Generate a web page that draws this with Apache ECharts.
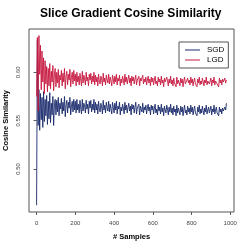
<!DOCTYPE html>
<html><head><meta charset="utf-8">
<script src="https://cdn.jsdelivr.net/npm/echarts@6/dist/echarts.min.js"></script>
<style>html,body{margin:0;padding:0;background:#fff}#c{width:249px;height:249px}</style>
</head><body><div id="c"></div>
<script>
const title = "Slice Gradient Cosine Similarity";
const xName = "# Samples";
const yName = "Cosine Similarity";
const seriesNames = ["SGD", "LGD"];
const sampleStep = 4;
const xTicks = [0, 200, 400, 600, 800, 1000];
const yTicks = [0.50, 0.55, 0.60];

const sgd = [
0.4625,0.633,0.545,0.582,0.540,0.578,0.551,0.574,0.543,0.580,0.549,0.572,0.555,
0.576,0.546,0.570,0.552,0.579,0.548,0.568,0.556,0.575,0.545,0.566,0.572,
0.556,0.571,0.559,0.574,0.555,0.568,0.562,0.573,0.557,0.569,0.560,0.575,0.554,0.566,0.571,0.558,0.569,0.563,0.574,0.556,0.565,0.570,0.559,0.572,0.561,
0.570,0.558,0.572,0.561,0.567,0.558,0.571,0.563,0.557,0.572,0.560,0.568,0.565,0.558,0.571,0.562,0.567,0.557,0.570,0.563,0.571,0.559,0.567,0.561,0.572,
0.558,0.569,0.561,0.567,0.557,0.570,0.562,0.559,0.568,0.564,0.557,0.571,0.561,0.566,0.558,0.569,0.563,0.560,0.570,0.559,0.567,0.562,0.557,0.569,0.564,
0.558,0.568,0.561,0.570,0.557,0.565,0.562,0.569,0.556,0.564,0.560,0.567,0.563,0.557,0.569,0.561,0.566,0.558,0.564,0.568,0.560,0.565,0.556,0.567,0.562,
0.566,0.558,0.564,0.569,0.557,0.563,0.561,0.567,0.556,0.565,0.562,0.559,0.568,0.558,0.564,0.561,0.566,0.557,0.563,0.567,0.560,0.564,0.556,0.566,0.561,
0.565,0.557,0.563,0.567,0.558,0.562,0.556,0.566,0.560,0.564,0.557,0.567,0.559,0.563,0.555,0.565,0.561,0.558,0.566,0.562,0.556,0.564,0.559,0.567,0.558,
0.563,0.556,0.565,0.559,0.562,0.555,0.566,0.558,0.563,0.560,0.556,0.565,0.559,0.564,0.555,0.561,0.566,0.558,0.561,0.556,0.565,0.559,0.563,0.557,0.566,
0.559,0.564,0.556,0.561,0.565,0.558,0.560,0.555,0.564,0.559,0.566,0.557,0.562,0.558,0.565,0.560,0.556,0.563,0.559,0.566,0.557,0.561,0.564,0.558,0.560,
0.565,0.556,0.562,0.559,0.566,0.557,0.561,0.564,0.558,0.560,0.555,0.564,0.559,0.562,0.557,0.563,0.560,0.558,0.564,0.561,0.568
];
const lgd = [
0.575,0.636,0.560,0.638,0.598,0.628,0.582,0.622,0.590,0.615,0.578,0.612,0.588,
0.606,0.580,0.604,0.586,0.609,0.583,0.601,0.590,0.607,0.581,0.598,0.604,
0.585,0.600,0.589,0.603,0.584,0.597,0.592,0.602,0.586,0.599,0.590,0.604,0.583,0.596,0.601,0.587,0.598,0.592,0.603,0.585,0.595,0.600,0.588,0.602,0.591,
0.598,0.586,0.600,0.590,0.596,0.587,0.599,0.592,0.586,0.601,0.589,0.597,0.593,0.587,0.600,0.591,0.595,0.586,0.598,0.592,0.599,0.588,0.596,0.590,0.600,
0.587,0.597,0.590,0.595,0.586,0.598,0.591,0.588,0.596,0.593,0.586,0.599,0.590,0.594,0.587,0.597,0.592,0.589,0.598,0.588,0.595,0.591,0.586,0.597,0.593,
0.588,0.596,0.590,0.598,0.587,0.594,0.591,0.597,0.586,0.593,0.589,0.596,0.592,0.587,0.598,0.590,0.595,0.588,0.593,0.597,0.589,0.594,0.586,0.596,0.591,
0.595,0.588,0.593,0.597,0.587,0.592,0.590,0.596,0.586,0.594,0.591,0.589,0.597,0.588,0.593,0.590,0.595,0.587,0.592,0.596,0.589,0.593,0.586,0.595,0.590,
0.594,0.587,0.592,0.596,0.588,0.591,0.586,0.595,0.590,0.593,0.587,0.596,0.589,0.592,0.585,0.594,0.590,0.588,0.595,0.591,0.586,0.593,0.589,0.596,0.588,
0.592,0.586,0.594,0.589,0.591,0.585,0.595,0.588,0.592,0.590,0.586,0.594,0.589,0.593,0.585,0.591,0.595,0.588,0.590,0.586,0.594,0.589,0.592,0.587,0.595,
0.589,0.593,0.586,0.591,0.594,0.588,0.590,0.585,0.593,0.589,0.595,0.587,0.591,0.588,0.594,0.590,0.586,0.592,0.589,0.595,0.587,0.591,0.593,0.588,0.590,
0.594,0.586,0.592,0.589,0.595,0.587,0.591,0.593,0.588,0.590,0.585,0.594,0.589,0.592,0.587,0.593,0.590,0.588,0.594,0.589,0.592
];

const pairs = arr => arr.map((v, i) => [i * sampleStep, v]);
const font = "'Liberation Sans', Arial, Helvetica, sans-serif";
const chart = echarts.init(document.getElementById('c'), null, {renderer: 'canvas'});
chart.setOption({
  animation: false,
  backgroundColor: '#fff',
  textStyle: {fontFamily: font},
  title: {text: title, left: 40, top: 8, padding: 0,
    textStyle: {fontSize: 12, fontWeight: 'bold', color: '#000', fontFamily: font}},
  grid: {left: 29, right: 15, top: 29, bottom: 37, show: true, borderColor: '#555', borderWidth: 1,
    containLabel: false, outerBoundsMode: 'none'},
  legend: {
    orient: 'vertical', left: 179, top: 42, width: 48,
    padding: [4, 4, 4, 6], itemGap: 2,
    borderColor: '#555', borderWidth: 1, borderRadius: 0,
    itemWidth: 15, itemHeight: 1, icon: 'rect',
    textStyle: {fontSize: 8, color: '#000', fontFamily: font, padding: [0, 0, 0, 2]},
    data: seriesNames
  },
  xAxis: {
    type: 'value', min: -39.2, max: 1019.2,
    name: xName, nameLocation: 'middle', nameGap: 21, nameMoveOverlap: false,
    nameTextStyle: {fontSize: 7.5, fontWeight: 'bold', color: '#000', fontFamily: font},
    axisLine: {show: false},
    axisTick: {show: true, inside: false, length: 3, lineStyle: {color: '#555'}, customValues: xTicks},
    axisLabel: {fontSize: 6, color: '#444', margin: 8, customValues: xTicks, fontFamily: font,
      formatter: v => String(v)},
    splitLine: {show: false}
  },
  yAxis: {
    type: 'value', min: 0.4555, max: 0.6448,
    name: yName, nameLocation: 'middle', nameRotate: 90, nameGap: 19, nameMoveOverlap: false,
    nameTextStyle: {fontSize: 7.5, fontWeight: 'bold', color: '#000', fontFamily: font},
    axisLine: {show: false},
    axisTick: {show: true, inside: false, length: 3, lineStyle: {color: '#555'}, customValues: yTicks},
    axisLabel: {fontSize: 6, color: '#444', margin: 8, rotate: 90, customValues: yTicks,
      formatter: v => v.toFixed(2), fontFamily: font},
    splitLine: {show: false}
  },
  series: [
    {name: seriesNames[0], type: 'line', data: pairs(sgd), showSymbol: false, symbol: 'none',
      lineStyle: {color: '#1a2a6c', width: 1, opacity: 0.9}, itemStyle: {color: '#1a2a6c'}},
    {name: seriesNames[1], type: 'line', data: pairs(lgd), showSymbol: false, symbol: 'none',
      lineStyle: {color: '#c6183f', width: 1, opacity: 0.9}, itemStyle: {color: '#c6183f'}}
  ]
});
</script></body></html>
